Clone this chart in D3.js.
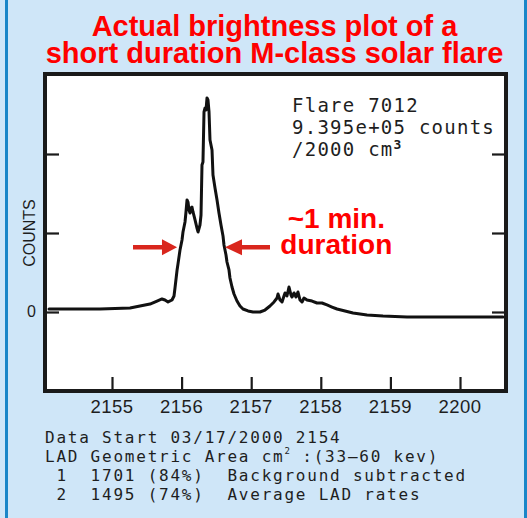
<!DOCTYPE html>
<html>
<head>
<meta charset="utf-8">
<script src="https://cdn.jsdelivr.net/npm/d3@7/dist/d3.min.js"></script>
<style>
  html, body { margin: 0; padding: 0; background: #cfe6f8; }
  svg { display: block; }
  text.pre { white-space: pre; }
</style>
</head>
<body>
<svg id="chart" width="527" height="518"></svg>
<script>
// ---- DATA (time in minutes after 21:54, counts in tick units) ----
const times = [0.095,0.397,0.828,1.259,1.402,1.546,1.647,1.718,1.761,1.805,1.862,1.891,1.905,1.935,1.948,1.977,2.006,2.020,2.049,2.063,2.078,2.092,2.106,2.121,2.135,2.149,2.164,2.193,2.221,2.236,2.264,2.279,2.293,2.307,2.322,2.336,2.351,2.365,2.379,2.394,2.408,2.437,2.451,2.480,2.509,2.537,2.566,2.595,2.609,2.638,2.652,2.681,2.695,2.724,2.753,2.796,2.839,2.882,2.954,3.026,3.126,3.198,3.270,3.328,3.371,3.385,3.414,3.443,3.471,3.486,3.514,3.543,3.572,3.586,3.615,3.644,3.672,3.701,3.730,3.759,3.802,3.874,3.945,4.017,4.089,4.161,4.233,4.348,4.463,4.664,4.894,5.239,5.856,6.618];
const counts = [0.038,0.038,0.038,0.051,0.076,0.101,0.139,0.165,0.152,0.127,0.152,0.203,0.304,0.532,0.608,0.785,0.911,1.013,1.139,1.266,1.418,1.392,1.291,1.253,1.316,1.329,1.266,1.165,1.063,1.013,1.101,1.228,1.861,1.899,2.532,2.582,2.557,2.709,2.684,2.532,2.177,2.051,1.734,1.570,1.418,1.253,1.101,0.962,0.848,0.722,0.633,0.532,0.430,0.316,0.228,0.139,0.076,0.038,0.013,0.000,0.000,0.025,0.076,0.127,0.177,0.228,0.152,0.127,0.203,0.241,0.203,0.316,0.215,0.190,0.241,0.190,0.253,0.152,0.127,0.177,0.152,0.139,0.114,0.114,0.089,0.063,0.038,0.013,-0.013,-0.038,-0.051,-0.063,-0.063,-0.063];
const xTickValues = [1,2,3,4,5,6];
const xTickLabels = ["2155","2156","2157","2158","2159","2200"];
const yTickValues = [0,1,2];
const yTickLabels = ["0","",""];
const titleLines = ["Actual brightness plot of a","short duration M-class solar flare"];
const flareLines = ["Flare 7012","9.395e+05 counts","/2000 cm"];
const durationLines = ["~1 min.","duration"];
const infoLines = ["Data Start 03/17/2000 2154", "LAD Geometric Area cm", " 1  1701 (84%)  Background subtracted", " 2  1495 (74%)  Average LAD rates"];
// arrows: [shaftStart, headBase, tip] in minutes, at level arrowLevel
const arrowLeft = [1.302, 1.718, 1.935];
const arrowRight = [3.270, 2.868, 2.624];
const arrowLevel = 0.82;

// ---- LAYOUT ----
const W = 527, H = 518;
const frame = {l: 45, r: 506, t: 74, b: 391};
const svg = d3.select("#chart");

const x = d3.scaleLinear().domain([1, 6]).range([112, 460]);
const y = d3.scaleLinear().domain([0, 2]).range([312, 154]);

// background and side bars
svg.append("rect").attr("width", W).attr("height", H).attr("fill", "#cfe6f8");
svg.append("rect").attr("x", 5).attr("y", 0).attr("width", 3).attr("height", H).attr("fill", "#1a86c8");
svg.append("rect").attr("x", 524).attr("y", 0).attr("width", 3).attr("height", H).attr("fill", "#1a86c8");

// title
const title = svg.append("g").attr("font-family", "'Liberation Sans', Arial, sans-serif")
  .attr("font-weight", "bold").attr("font-size", 29).attr("fill", "#ff0000").attr("text-anchor", "middle");
title.selectAll("text").data(titleLines).join("text")
  .attr("x", 274.5).attr("y", (d, i) => 36 + i * 27).text(d => d);

// plot frame
svg.append("rect").attr("x", frame.l).attr("y", frame.t)
  .attr("width", frame.r - frame.l).attr("height", frame.b - frame.t)
  .attr("fill", "#ffffff");

// ticks via axes
const tickLen = 14;
const gx = svg.append("g").attr("transform", `translate(0,${frame.b})`)
  .call(d3.axisTop(x).tickValues(xTickValues).tickSize(tickLen).tickFormat(""));
const gyl = svg.append("g").attr("transform", `translate(${frame.l},0)`)
  .call(d3.axisRight(y).tickValues(yTickValues).tickSize(tickLen).tickFormat(""));
const gyr = svg.append("g").attr("transform", `translate(${frame.r},0)`)
  .call(d3.axisLeft(y).tickValues(yTickValues).tickSize(tickLen).tickFormat(""));
[gx, gyl, gyr].forEach(g => {
  g.select(".domain").remove();
  g.selectAll(".tick line").attr("stroke", "#1a1a1a").attr("stroke-width", 2.2);
});

// x labels
svg.append("g").attr("font-family", "'Liberation Sans', Arial, sans-serif").attr("font-size", 18.5)
  .attr("fill", "#1e1e1e").attr("text-anchor", "middle")
  .selectAll("text").data(xTickValues).join("text")
  .attr("x", d => x(d)).attr("y", 413).attr("letter-spacing", 0.5).text((d, i) => xTickLabels[i]);

// y labels
svg.append("g").attr("font-family", "'Liberation Sans', Arial, sans-serif").attr("font-size", 16)
  .attr("fill", "#1e1e1e").attr("text-anchor", "middle")
  .selectAll("text").data(yTickValues.filter((d, i) => yTickLabels[i] !== "")).join("text")
  .attr("x", 31.5).attr("y", d => y(d) + 5).text(d => yTickLabels[yTickValues.indexOf(d)]);

svg.append("text").attr("transform", `translate(35,${y(1)}) rotate(-90)`)
  .attr("font-family", "'Liberation Sans', Arial, sans-serif").attr("font-size", 16)
  .attr("fill", "#1e1e1e").attr("text-anchor", "middle").text("COUNTS");

// data line
const pts = times.map((t, i) => [t, counts[i]]);
svg.append("path").datum(pts)
  .attr("d", d3.line().x(d => x(d[0])).y(d => y(d[1])))
  .attr("fill", "none").attr("stroke", "#111").attr("stroke-width", 3)
  .attr("stroke-linejoin", "round").attr("stroke-linecap", "round");

// frame border on top
svg.append("rect").attr("x", frame.l).attr("y", frame.t)
  .attr("width", frame.r - frame.l).attr("height", frame.b - frame.t)
  .attr("fill", "none").attr("stroke", "#1a1a1a").attr("stroke-width", 4);

// flare info text
const mono = "'DejaVu Sans Mono', monospace";
const ft = svg.append("g").attr("font-family", mono).attr("font-size", 19).attr("fill", "#1e1e1e")
  .attr("letter-spacing", 1.25);
flareLines.forEach((s, i) => {
  const t = ft.append("text").attr("x", 292).attr("y", 112 + i * 22).text(s);
  if (i === 2) t.append("tspan").attr("font-size", 13).attr("font-weight", "bold").attr("dy", -7).text("3");
});

// duration annotation
const ann = svg.append("g").attr("font-family", "'Liberation Sans', Arial, sans-serif")
  .attr("font-weight", "bold").attr("font-size", 28).attr("fill", "#ff0000").attr("text-anchor", "middle");
ann.selectAll("text").data(durationLines).join("text")
  .attr("x", x(4.223)).attr("y", (d, i) => y(i === 0 ? 1.063 : 0.734)).text(d => d);

function arrowPath(a) {
  const ya = y(arrowLevel);
  const [s, b, tip] = a.map(v => x(v));
  const sh = 2.2, hh = 8;
  return `M${s},${ya - sh}L${b},${ya - sh}L${b},${ya - hh}L${tip},${ya}L${b},${ya + hh}L${b},${ya + sh}L${s},${ya + sh}Z`;
}
svg.selectAll("path.arrow").data([arrowLeft, arrowRight]).join("path")
  .attr("class", "arrow").attr("d", arrowPath).attr("fill", "#d9261d");

// bottom info text (spaces kept as non-breaking spaces)
const nb = s => s.replace(/ /g, "\u00A0");
const bt = svg.append("g").attr("font-family", mono).attr("font-size", 16).attr("fill", "#1e1e1e")
  .attr("letter-spacing", 1.77);
infoLines.forEach((s, i) => {
  const t = bt.append("text").attr("class", "pre").attr("x", 45).attr("y", 443 + i * 19).text(nb(s));
  if (i === 1) {
    t.append("tspan").attr("font-size", 9).attr("letter-spacing", 1).attr("dy", -8).text("2");
    t.append("tspan").attr("dy", 8).text(nb(" :(33\u201360 kev)"));
  }
});
</script>
</body>
</html>
